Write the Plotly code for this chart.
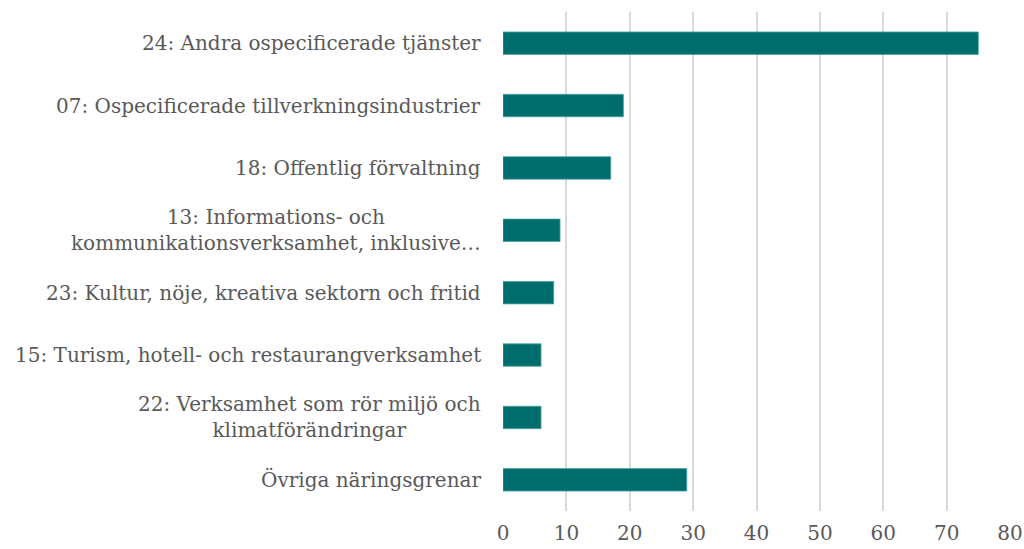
import plotly.graph_objects as go

categories = [
    "24: Andra ospecificerade tjänster",
    "07: Ospecificerade tillverkningsindustrier",
    "18: Offentlig förvaltning",
    "13: Informations- och<br>kommunikationsverksamhet, inklusive…",
    "23: Kultur, nöje, kreativa sektorn och fritid",
    "15: Turism, hotell- och restaurangverksamhet",
    "22: Verksamhet som rör miljö och<br>klimatförändringar",
    "Övriga näringsgrenar",
]
values = [75, 19, 17, 9, 8, 6, 6, 29]
x_ticks = [0, 10, 20, 30, 40, 50, 60, 70, 80]

FONT = "DejaVu Serif"
GREY = "#595959"

fig = go.Figure(go.Bar(
    x=values, y=categories, orientation="h",
    marker=dict(color="#006d6d", line=dict(color="#4fa3a3", width=0.8)),
    width=0.36,
))

for c in categories:
    fig.add_annotation(
        x=0, xref="paper", xanchor="right", xshift=-20,
        y=c, yref="y", yanchor="middle",
        text=c, showarrow=False, align="center",
        font=dict(family=FONT, size=20, color=GREY),
    )

fig.update_layout(
    width=1024, height=549,
    margin=dict(l=503, r=14, t=12, b=38),
    paper_bgcolor="white", plot_bgcolor="white",
    showlegend=False,
    xaxis=dict(
        range=[0, 80], tickvals=x_ticks, automargin=False,
        showgrid=True, gridcolor="#d9d9d9", gridwidth=1.5,
        zeroline=False, showline=False,
        tickfont=dict(family=FONT, size=20, color=GREY),
        ticks="", ticklen=0, ticklabelstandoff=8,
    ),
    yaxis=dict(
        autorange="reversed", showticklabels=False, automargin=False,
        showgrid=False, zeroline=False, showline=False,
    ),
)

fig.write_html("out.html", config={"displayModeBar": False},
               post_script="document.body.style.margin='0';")
